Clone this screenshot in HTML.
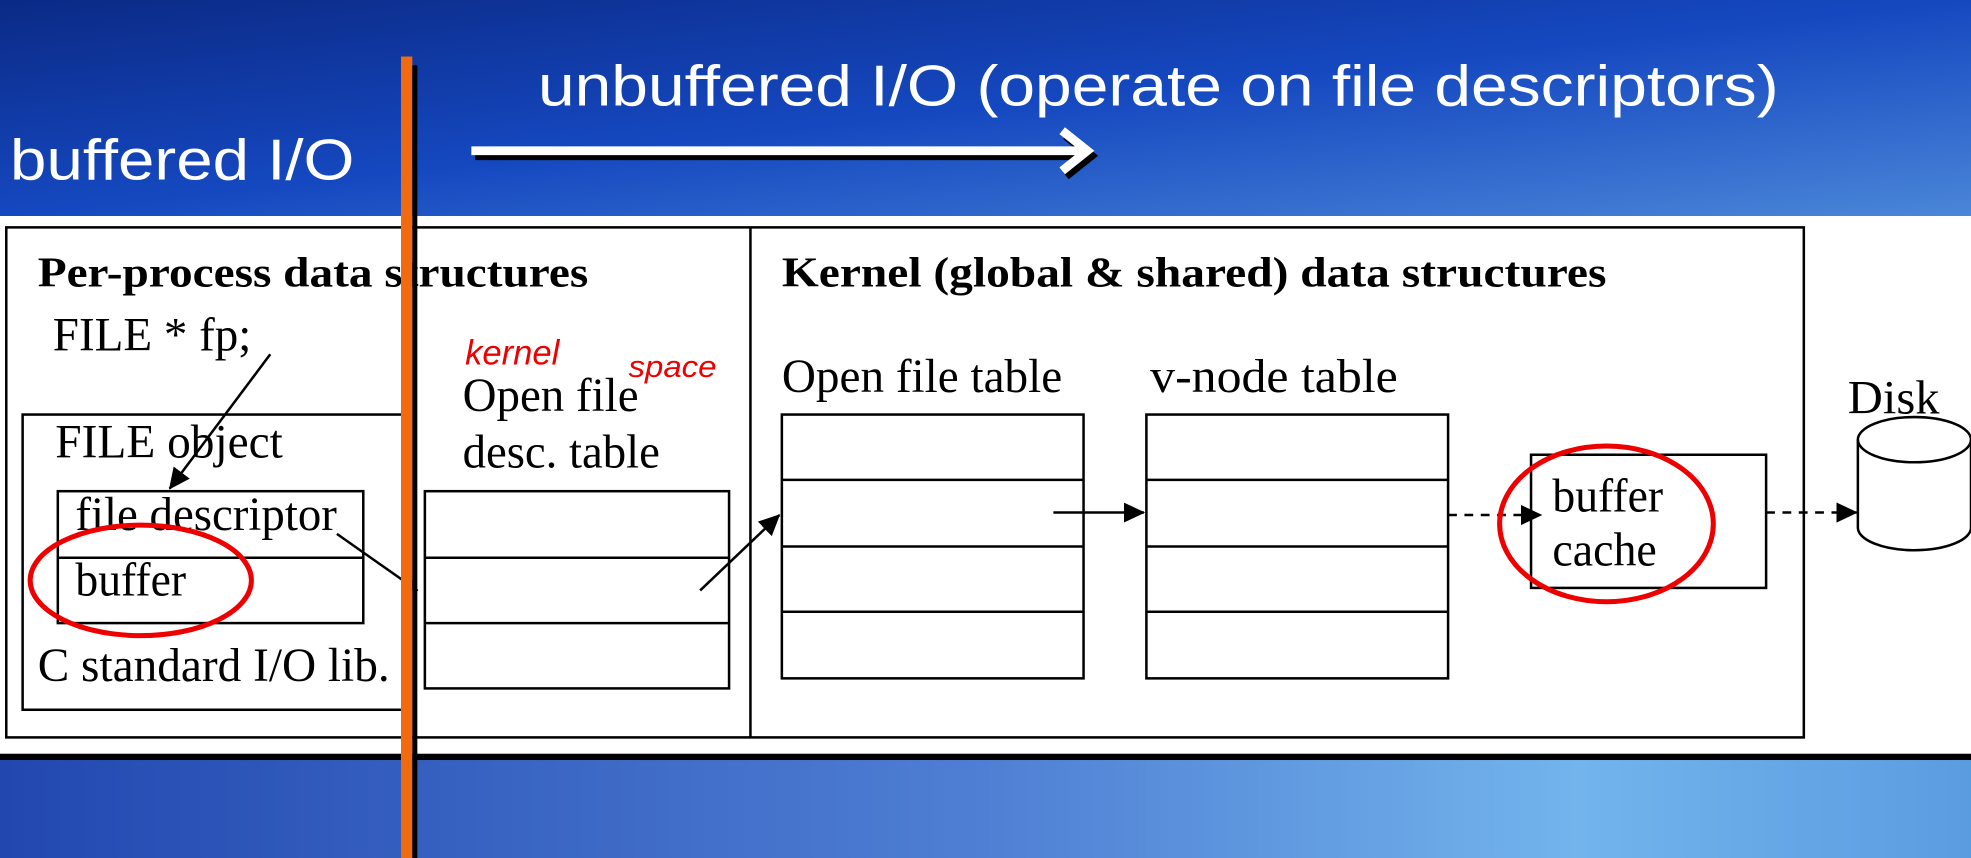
<!DOCTYPE html>
<html><head><meta charset="utf-8"><style>
html,body{margin:0;padding:0;width:1971px;height:858px;overflow:hidden}
svg{display:block}
.s{font-family:"Liberation Serif",serif;fill:#000}
.w{font-family:"Liberation Sans",sans-serif;fill:#fff}
</style></head><body>
<svg width="1971" height="858" viewBox="0 0 1568 683" preserveAspectRatio="none">
<defs>
<linearGradient id="bg" x1="0" y1="0" x2="1" y2="1">
<stop offset="0" stop-color="#0b2a86"/><stop offset="0.5" stop-color="#1548c0"/><stop offset="1" stop-color="#4a86d8"/>
</linearGradient>
<linearGradient id="bg2" x1="0" y1="0" x2="1" y2="0">
<stop offset="0" stop-color="#2248b0"/><stop offset="0.5" stop-color="#4f7fd4"/><stop offset="0.8" stop-color="#72b4ec"/><stop offset="1" stop-color="#5a9ce0"/>
</linearGradient>
<marker id="ah" markerWidth="10" markerHeight="10" refX="9" refY="5" orient="auto" markerUnits="userSpaceOnUse" viewBox="0 0 10 10">
<path d="M0,0 L10,5 L0,10 z" fill="#000"/></marker>
<marker id="ah2" markerWidth="18" markerHeight="18" refX="16" refY="9" orient="auto" markerUnits="userSpaceOnUse" viewBox="0 0 18 18">
<path d="M0,1 L17,9 L0,17 z" fill="#000"/></marker>
</defs>
<rect width="1568" height="172" fill="url(#bg)"/>
<rect y="603" width="1568" height="80" fill="url(#bg2)"/>
<rect y="172" width="1568" height="431" fill="#fff"/>
<rect y="600" width="1568" height="5" fill="#000"/>

<text class="w" x="8" y="143" font-size="46" textLength="274" lengthAdjust="spacingAndGlyphs">buffered I/O</text>
<text class="w" x="428" y="84" font-size="46" textLength="987" lengthAdjust="spacingAndGlyphs">unbuffered I/O (operate on file descriptors)</text>
<g transform="translate(3,4)"><path d="M375,120 H865 M845,104 L865,120 L845,136" stroke="#000" stroke-width="7" fill="none"/></g>
<path d="M375,120 H865 M845,104 L865,120 L845,136" stroke="#fff" stroke-width="7" fill="none"/>

<g fill="none" stroke="#000" stroke-width="2">
<rect x="5" y="181" width="1430" height="406"/>
<line x1="597" y1="181" x2="597" y2="587"/>
<rect x="18" y="330" width="305" height="235"/>
<rect x="46" y="391" width="243" height="105"/>
<line x1="46" y1="444" x2="289" y2="444"/>
<rect x="338" y="391" width="242" height="157"/>
<line x1="338" y1="444" x2="580" y2="444"/><line x1="338" y1="496" x2="580" y2="496"/>
<rect x="622" y="330" width="240" height="210"/>
<line x1="622" y1="382" x2="862" y2="382"/><line x1="622" y1="435" x2="862" y2="435"/><line x1="622" y1="487" x2="862" y2="487"/>
<rect x="912" y="330" width="240" height="210"/>
<line x1="912" y1="382" x2="1152" y2="382"/><line x1="912" y1="435" x2="1152" y2="435"/><line x1="912" y1="487" x2="1152" y2="487"/>
<rect x="1218" y="362" width="187" height="106"/>
<path d="M1478,350 V420 A45,18 0 0 0 1568,420 V350"/>
<ellipse cx="1523" cy="350" rx="45" ry="18"/>
</g>
<g stroke="#000" stroke-width="2" fill="none">
<line x1="215" y1="282" x2="135" y2="389" marker-end="url(#ah2)"/>
<line x1="268" y1="425" x2="332" y2="470" marker-end="url(#ah)"/>
<line x1="557" y1="470" x2="620" y2="410" marker-end="url(#ah2)"/>
<line x1="838" y1="408" x2="910" y2="408" marker-end="url(#ah2)"/>
<line x1="1152" y1="410" x2="1226" y2="410" stroke-dasharray="7,6" marker-end="url(#ah2)"/>
<line x1="1405" y1="408" x2="1477" y2="408" stroke-dasharray="7,6" marker-end="url(#ah2)"/>
</g>

<text class="s" x="30" y="228" font-size="34" font-weight="bold" textLength="438" lengthAdjust="spacingAndGlyphs">Per-process data structures</text>
<text class="s" x="622" y="228" font-size="34" font-weight="bold" textLength="656" lengthAdjust="spacingAndGlyphs">Kernel (global &amp; shared) data structures</text>
<text class="s" x="42" y="279" font-size="38" textLength="158" lengthAdjust="spacingAndGlyphs">FILE * fp;</text>
<text class="s" x="44" y="364" font-size="38" textLength="181" lengthAdjust="spacingAndGlyphs">FILE object</text>
<text class="s" x="60" y="422" font-size="38" textLength="208" lengthAdjust="spacingAndGlyphs">file descriptor</text>
<text class="s" x="60" y="474" font-size="38" textLength="88" lengthAdjust="spacingAndGlyphs">buffer</text>
<text class="s" x="30" y="542" font-size="38" textLength="280" lengthAdjust="spacingAndGlyphs">C standard I/O lib.</text>
<text class="s" x="368" y="327" font-size="38" textLength="140" lengthAdjust="spacingAndGlyphs">Open file</text>
<text class="s" x="368" y="372" font-size="38" textLength="157" lengthAdjust="spacingAndGlyphs">desc. table</text>
<text class="s" x="622" y="312" font-size="38" textLength="223" lengthAdjust="spacingAndGlyphs">Open file table</text>
<text class="s" x="915" y="312" font-size="38" textLength="197" lengthAdjust="spacingAndGlyphs">v-node table</text>
<text class="s" x="1235" y="407" font-size="38" textLength="88" lengthAdjust="spacingAndGlyphs">buffer</text>
<text class="s" x="1235" y="450" font-size="38" textLength="83" lengthAdjust="spacingAndGlyphs">cache</text>
<text class="s" x="1470" y="329" font-size="38" textLength="73" lengthAdjust="spacingAndGlyphs">Disk</text>
<text x="370" y="290" font-size="28" fill="#e00" font-style="italic" font-family="Liberation Sans,sans-serif" textLength="75" lengthAdjust="spacingAndGlyphs">kernel</text>
<text x="500" y="300" font-size="24" fill="#e00" font-style="italic" font-family="Liberation Sans,sans-serif" textLength="70" lengthAdjust="spacingAndGlyphs">space</text>

<ellipse cx="112" cy="462" rx="88" ry="44" fill="none" stroke="#e00" stroke-width="4"/>
<ellipse cx="1278" cy="417" rx="85" ry="62" fill="none" stroke="#e00" stroke-width="4"/>

<rect x="319" y="45" width="9" height="638" fill="#f26a10"/>
<rect x="328" y="52" width="4" height="631" fill="#000"/>
</svg>
</body></html>
